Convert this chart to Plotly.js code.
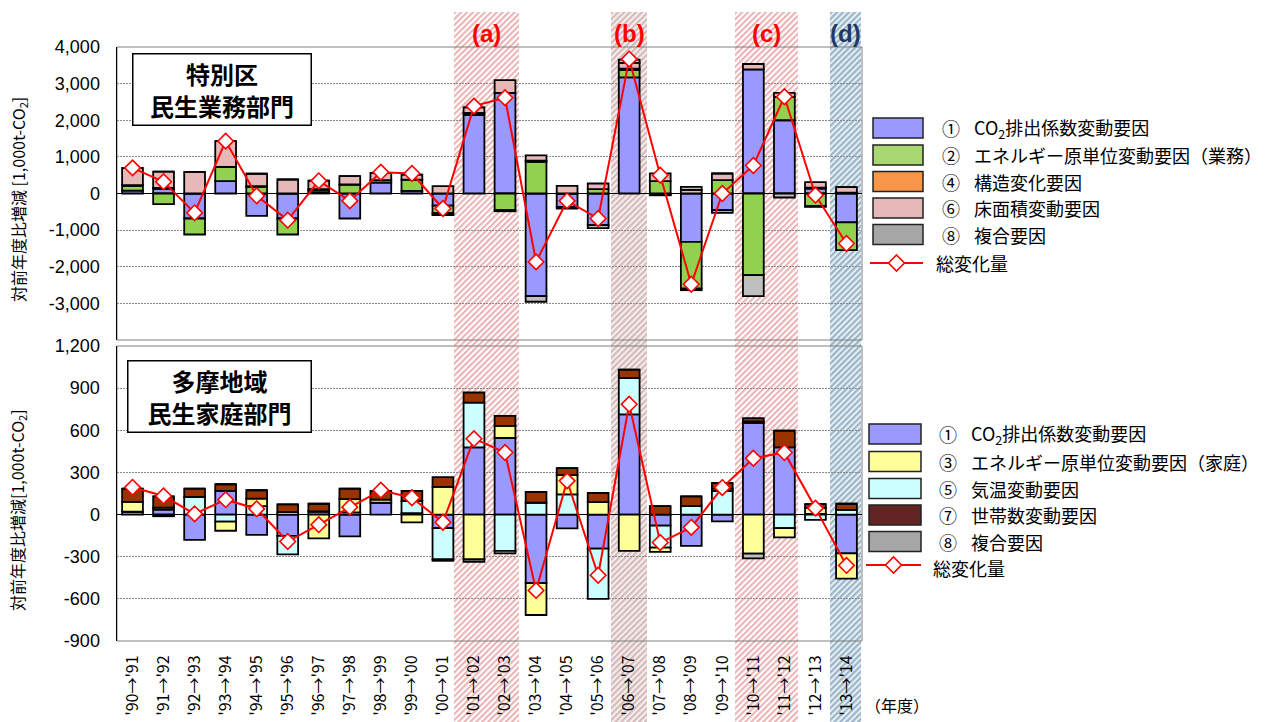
<!DOCTYPE html>
<html><head><meta charset="utf-8">
<script src="https://cdn.plot.ly/plotly-3.0.1.min.js"></script>
<style>html,body{margin:0;padding:0;background:#fff}#chart{width:1278px;height:722px}</style>
</head><body><div id="chart"></div>
<script>
// ---------- DATA ----------
const periods = ["'90→'91","'91→'92","'92→'93","'93→'94","'94→'95","'95→'96","'96→'97","'97→'98","'98→'99","'99→'00","'00→'01","'01→'02","'02→'03","'03→'04","'04→'05","'05→'06","'06→'07","'07→'08","'08→'09","'09→'10","'10→'11","'11→'12","'12→'13","'13→'14"];

// 特別区 民生業務部門 (1,000t-CO2)
const topCO2      = [80,130,-683,337,-610,-683,40,-683,300,70,-330,2150,2750,-2800,-364,-865,3170,-40,-1320,-455,3390,2000,137,-790];
const topEnergy   = [130,-290,-437,392,182,-437,60,246,64,310,-200,0,-455,865,0,118,200,337,-1275,364,-2230,637,-346,-756];
const topStruct   = [20,20,0,0,20,0,20,0,0,0,-40,50,0,30,0,0,40,0,-45,-73,0,0,20,20];
const topFloor    = [470,450,592,700,337,382,228,228,200,137,200,150,346,146,209,155,155,210,100,182,146,109,155,155];
const topComposite= [0,0,0,0,0,0,0,0,0,0,-20,0,-30,-155,-50,-80,90,-10,80,0,-574,-109,-20,0];
const topTotal    = [700,320,-528,1430,-64,-728,346,-200,583,546,-410,2386,2614,-1867,-200,-683,3670,500,-2477,0,765,2641,-46,-1366];

// 多摩地域 民生家庭部門 (1,000t-CO2)
const botCO2      = [20,35,-180,168,-144,-151,22,-155,84,10,-96,478,545,-487,-98,-242,713,-79,-223,-48,653,478,5,-276];
const botTemp     = [0,-12,125,-50,60,-132,0,15,0,86,-223,319,-259,84,144,-358,259,-156,60,168,10,-96,-38,34];
const botEnergy   = [70,15,0,-65,53,17,-170,95,22,-55,197,-319,86,-228,137,89,-259,-31,0,17,-278,-67,41,-180];
const botHousehold= [95,80,60,48,60,55,55,75,62,72,70,72,72,77,50,65,60,60,70,41,24,120,29,43];
const botComposite= [0,0,0,0,0,0,0,0,0,0,-10,-17,-17,0,0,0,0,0,0,0,-34,0,0,0];
const botTotal    = [194,132,5,106,41,-192,-72,53,173,120,-55,540,442,-540,240,-432,785,-199,-91,192,401,442,46,-362];

const topTickVals = [-3000,-2000,-1000,0,1000,2000,3000,4000];
const topTickText = ["-3,000","-2,000","-1,000","0","1,000","2,000","3,000","4,000"];
const botTickVals = [-900,-600,-300,0,300,600,900,1200];
const botTickText = ["-900","-600","-300","0","300","600","900","1,200"];

const topLegend = [["①","CO<sub>2</sub>排出係数変動要因"],["②","エネルギー原単位変動要因（業務）"],["④","構造変化要因"],["⑥","床面積変動要因"],["⑧","複合要因"]];
const botLegend = [["①","CO<sub>2</sub>排出係数変動要因"],["③","エネルギー原単位変動要因（家庭）"],["⑤","気温変動要因"],["⑦","世帯数変動要因"],["⑧","複合要因"]];
const totalLabel = "総変化量";

// ---------- STYLE ----------
const C = {co2:'#9999FF', energyB:'#92D050', struct:'#F79646', floor:'#E6B9B8', comp:'#BFBFBF',
           energyH:'#FFFF99', temp:'#CCFFFF', house:'#993300'};
const legTopColors = ['#9999FF','#A9D870','#F79646','#E6B9B8','#A6A6A6'];
const legBotColors = ['#9999FF','#FFFF99','#CCFFFF','#632523','#A6A6A6'];

const L=117, R=862, T=47, B=641, W=R-L, H=B-T;
const px = x => (x-L)/W;
const py = y => (B-y)/H;

function bar(y, color, xa, ya){
  return {type:'bar', x:periods, y:y, xaxis:xa, yaxis:ya, width:0.67,
    marker:{color:color, line:{color:'#000', width:1.8}}, hoverinfo:'skip', showlegend:false};
}
function total(y, xa, ya){
  return {type:'scatter', mode:'lines+markers', x:periods, y:y, xaxis:xa, yaxis:ya, cliponaxis:false,
    line:{color:'#FF0000', width:2},
    marker:{symbol:'diamond', size:12, color:'#FFFFFF', line:{color:'#FF0000', width:1.6}},
    hoverinfo:'skip', showlegend:false};
}

const data = [
  bar(topCO2, C.co2, 'x','y'), bar(topEnergy, C.energyB, 'x','y'), bar(topStruct, C.struct,'x','y'),
  bar(topFloor, C.floor,'x','y'), bar(topComposite, C.comp,'x','y'), total(topTotal,'x','y'),
  bar(botCO2, C.co2,'x2','y2'), bar(botTemp, C.temp,'x2','y2'), bar(botEnergy, C.energyH,'x2','y2'),
  bar(botHousehold, C.house,'x2','y2'), bar(botComposite, C.comp,'x2','y2'), total(botTotal,'x2','y2')
];

// hatched shading bands
function hatch(w,h,bg,fg){
  const s = `<svg xmlns='http://www.w3.org/2000/svg' width='${w}' height='${h}' viewBox='0 0 ${w} ${h}'><defs><pattern id='p' width='4.2' height='4.2' patternUnits='userSpaceOnUse' patternTransform='rotate(45)'><rect width='4.2' height='4.2' fill='${bg}'/><rect width='2.1' height='4.2' fill='${fg}'/></pattern></defs><rect width='${w}' height='${h}' fill='url(#p)'/></svg>`;
  return 'data:image/svg+xml;base64,' + btoa(s);
}
const bands = [
  {x0:454,x1:519,bg:'#FFFFFF',fg:'#EAB4B4',lab:'(a)',col:'#FF0000'},
  {x0:611,x1:647,bg:'#F3EFEF',fg:'#D6B8B8',lab:'(b)',col:'#FF0000'},
  {x0:735,x1:798,bg:'#FFFFFF',fg:'#EAB4B4',lab:'(c)',col:'#FF0000'},
  {x0:830,x1:861,bg:'#E2F0F7',fg:'#9DB2C4',lab:'(d)',col:'#1F3864'}
];
const yTopPx=12, yBotPx=722;
const images = bands.map(b=>({
  source: hatch(b.x1-b.x0, yBotPx-yTopPx, b.bg, b.fg),
  xref:'paper', yref:'paper', x:px(b.x0), y:py(yTopPx), sizex:(b.x1-b.x0)/W, sizey:(yBotPx-yTopPx)/H,
  xanchor:'left', yanchor:'top', sizing:'stretch', layer:'below'
}));

const annotations = [];
const shapes = [];
bands.forEach(b=>annotations.push({xref:'paper',yref:'paper',x:px((b.x0+b.x1)/2),y:py(33),text:b.lab,showarrow:false,
  xanchor:'center',yanchor:'middle',font:{family:'Liberation Sans, Arial',size:24,color:b.col,weight:'bold'}}));

// panel title boxes
annotations.push({xref:'paper',yref:'paper',x:px(221.7),y:py(90),xanchor:'center',yanchor:'middle',showarrow:false,
  text:'特別区<br>民生業務部門',font:{family:'Noto Sans CJK JP',size:24,color:'#000',weight:'bold'},
  bgcolor:'#FFFFFF',bordercolor:'#000',borderwidth:1.5,borderpad:0,width:177,height:70,align:'center'});
annotations.push({xref:'paper',yref:'paper',x:px(219.5),y:py(396.5),xanchor:'center',yanchor:'middle',showarrow:false,
  text:'多摩地域<br>民生家庭部門',font:{family:'Noto Sans CJK JP',size:24,color:'#000',weight:'bold'},
  bgcolor:'#FFFFFF',bordercolor:'#000',borderwidth:1.5,borderpad:0,width:182,height:70,align:'center'});

// y axis titles
annotations.push({xref:'paper',yref:'paper',x:px(18),y:py(200),textangle:-90,showarrow:false,xanchor:'center',yanchor:'middle',
  text:'対前年度比増減 [1,000t-CO<sub>2</sub>]',font:{family:'Noto Sans CJK JP',size:16,color:'#000'}});
annotations.push({xref:'paper',yref:'paper',x:px(18),y:py(510),textangle:-90,showarrow:false,xanchor:'center',yanchor:'middle',
  text:'対前年度比増減[1,000t-CO<sub>2</sub>]',font:{family:'Noto Sans CJK JP',size:16,color:'#000'}});
// (年度)
annotations.push({xref:'paper',yref:'paper',x:px(897),y:py(705),showarrow:false,xanchor:'center',yanchor:'middle',
  text:'（年度）',font:{family:'Noto Sans CJK JP',size:16,color:'#000'}});

// manual legends
function legend(items, colors, swX0, swX1, numX, txtX, rows, lineY, lineTxtY, totX){
  items.forEach((it,i)=>{
    const cy = rows[i];
    shapes.push({type:'rect',xref:'paper',yref:'paper',x0:px(swX0),x1:px(swX1),y0:py(cy+10),y1:py(cy-10),
      fillcolor:colors[i],line:{color:'#222',width:1.5}});
    annotations.push({xref:'paper',yref:'paper',x:px(numX),y:py(cy),xanchor:'left',yanchor:'middle',showarrow:false,
      text:it[0],font:{family:'Noto Sans CJK JP',size:18,color:'#000'}});
    annotations.push({xref:'paper',yref:'paper',x:px(txtX),y:py(cy),xanchor:'left',yanchor:'middle',showarrow:false,
      text:it[1],font:{family:'Noto Sans CJK JP',size:18,color:'#000'}});
  });
  shapes.push({type:'line',xref:'paper',yref:'paper',x0:px(swX0-3),x1:px(swX1),y0:py(lineY),y1:py(lineY),line:{color:'#FF0000',width:2}});
  const cx=(swX0-3+swX1)/2, d=8;
  shapes.push({type:'path',xref:'paper',yref:'paper',
    path:`M ${px(cx-d)},${py(lineY)} L ${px(cx)},${py(lineY-d)} L ${px(cx+d)},${py(lineY)} L ${px(cx)},${py(lineY+d)} Z`,
    fillcolor:'#FFFFFF',line:{color:'#FF0000',width:1.6}});
  annotations.push({xref:'paper',yref:'paper',x:px(totX),y:py(lineTxtY),xanchor:'left',yanchor:'middle',showarrow:false,
    text:totalLabel,font:{family:'Noto Sans CJK JP',size:18,color:'#000'}});
}
legend(topLegend, legTopColors, 873, 923, 940, 972, [128,155,181.5,208,234.5], 263, 263, 934);
legend(botLegend, legBotColors, 869, 921, 937, 969, [434,461.5,488.5,515,541.5], 565, 568, 931);

// panel frames
shapes.push({type:'rect',xref:'paper',yref:'paper',x0:0,x1:1,y0:py(340),y1:1,line:{color:'#808080',width:1},layer:'below'});
shapes.push({type:'rect',xref:'paper',yref:'paper',x0:0,x1:1,y0:0,y1:py(346),line:{color:'#808080',width:1},layer:'below'});

const yCommon = {showline:true, linecolor:'#000', linewidth:1.5, ticks:'outside', ticklen:12, tickcolor:'rgba(0,0,0,0)',
  showgrid:true, gridcolor:'#8a8a8a', gridwidth:1, griddash:'2px,1px',
  zeroline:true, zerolinecolor:'#000', zerolinewidth:1.8,
  tickfont:{family:'Liberation Sans, Arial', size:18, color:'#000'}, fixedrange:true};

const layout = {
  width:1278, height:722, margin:{l:L, r:1278-R, t:T, b:722-B},
  paper_bgcolor:'#FFFFFF', plot_bgcolor:'rgba(0,0,0,0)',
  barmode:'relative', bargap:0.33, showlegend:false, hovermode:false,
  xaxis:{domain:[0,1], anchor:'y', type:'category', range:[-0.5,23.5], autorange:false, showticklabels:false, showgrid:false, zeroline:false, showline:false, ticks:'', fixedrange:true},
  xaxis2:{domain:[0,1], anchor:'y2', type:'category', range:[-0.5,23.5], autorange:false, showgrid:false, zeroline:false, showline:false, ticks:'outside', ticklen:7, tickcolor:'rgba(0,0,0,0)', tickangle:-90,
    tickfont:{family:'Noto Sans CJK JP', size:16, color:'#000'}, fixedrange:true},
  yaxis:Object.assign({}, yCommon, {domain:[py(340),1], anchor:'x', range:[-4000,4000], tickvals:topTickVals, ticktext:topTickText}),
  yaxis2:Object.assign({}, yCommon, {domain:[0,py(346)], anchor:'x2', range:[-900,1200], tickvals:botTickVals, ticktext:botTickText}),
  images:images, shapes:shapes, annotations:annotations
};

Plotly.newPlot('chart', data, layout, {staticPlot:true, displayModeBar:false});
</script>
</body></html>
